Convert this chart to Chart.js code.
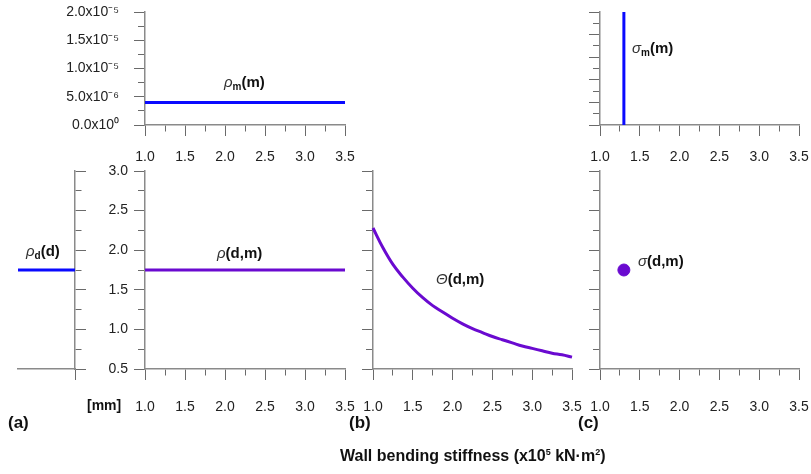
<!DOCTYPE html>
<html>
<head>
<meta charset="utf-8">
<script src="https://cdn.jsdelivr.net/npm/chart.js@4.4.0/dist/chart.umd.min.js"></script>
<style>
  body { margin: 0; background: #fff; }
  #wrap { position: relative; width: 811px; height: 474px; overflow: hidden; }
  canvas { position: absolute; left: 0; top: 0; }
  .lbl { position: absolute; font: bold 15px "Liberation Sans", Arial, sans-serif; line-height: 17px; white-space: nowrap; color: #111; }
  .lbl .g { font-weight: normal; font-style: italic; color: #333; }
  .lbl sub { font-size: 10px; vertical-align: -3px; }
  .lbl sup { font-size: 9px; vertical-align: 6px; }
</style>
</head>
<body>
<div id="wrap">
  <canvas id="c1" width="811" height="474"></canvas>
  <canvas id="c2" width="811" height="474"></canvas>
  <canvas id="c3" width="811" height="474"></canvas>
  <canvas id="c4" width="811" height="474"></canvas>
  <canvas id="c5" width="811" height="474"></canvas>
  <canvas id="c6" width="811" height="474"></canvas>

  <div class="lbl" style="left:224px;top:73px"><span class="g">ρ</span><sub>m</sub>(m)</div>
  <div class="lbl" style="left:26px;top:242px"><span class="g">ρ</span><sub>d</sub>(d)</div>
  <div class="lbl" style="left:217px;top:244px"><span class="g">ρ</span>(d,m)</div>
  <div class="lbl" style="left:436px;top:270px"><span class="g">Θ</span>(d,m)</div>
  <div class="lbl" style="left:632px;top:39px"><span class="g">σ</span><sub>m</sub>(m)</div>
  <div class="lbl" style="left:638px;top:252px"><span class="g">σ</span>(d,m)</div>
  <div class="lbl" style="left:87px;top:397px;font-size:14px">[mm]</div>
  <div class="lbl" style="left:8px;top:414px;font-size:17px">(a)</div>
  <div class="lbl" style="left:349px;top:414px;font-size:17px">(b)</div>
  <div class="lbl" style="left:578px;top:414px;font-size:17px">(c)</div>
  <div class="lbl" style="left:340px;top:444px;font-size:16px">Wall bending stiffness (x10<sup>5</sup> kN·m<sup>2</sup>)</div>
</div>

<script>
// x values: wall bending stiffness (x10^5 kN.m2)
const stiffness = [1.0, 1.125, 1.25, 1.375, 1.5, 1.625, 1.75, 1.875, 2.0, 2.125, 2.25,
    2.375, 2.5, 2.625, 2.75, 2.875, 3.0, 3.125, 3.25, 3.375, 3.5];
const xTickLabels = ['1.0', '1.5', '2.0', '2.5', '3.0', '3.5'];

// (a) densities
const rhoMx = [1.0, 3.5];
const rhoM = [4.0e-6, 4.0e-6];
const rhoDx = [0, 1];
const rhoD = [1.75, 1.75];
const rhoTopTicks = ['0.0x10⁰', '5.0x10⁻⁶', '1.0x10⁻⁵', '1.5x10⁻⁵', '2.0x10⁻⁵'];

// (a) joint density, (b) theta curve
const rhoDmx = [1.0, 3.5];
const rhoDm = [1.75, 1.75];
const theta = [2.28, 2.03, 1.82, 1.66, 1.52, 1.40, 1.30, 1.22, 1.14, 1.07, 1.01,
    0.96, 0.91, 0.87, 0.83, 0.79, 0.76, 0.73, 0.70, 0.68, 0.65];
const yTickLabels = ['0.5', '1.0', '1.5', '2.0', '2.5', '3.0'];

// (c) sigma
const sigmaMx = [1.3, 1.3];
const sigmaM = [0, 1];
const sigmaDmx = [1.3];
const sigmaDm = [1.75];

const BLUE = '#0a0aff';
const PURPLE = '#6a0ad0';
const AXIS = '#8a8a8a';
const TICK = '#6a6a6a';
const FONT = { family: '"Liberation Sans", Arial, sans-serif', size: 14 };

function pts(xs, ys) {
    return xs.map((x, i) => ({ x: x, y: ys[i] }));
}

// minor ticks get drawn shorter with a dash pattern
function tickGrid(isMajor, side) {
    return {
        display: true,
        drawOnChartArea: false,
        drawTicks: true,
        tickLength: 11,
        tickColor: TICK,
        tickWidth: 1,
        tickBorderDash: (ctx) => {
            if (isMajor(ctx.tick.value)) return [];
            return side === 'left' ? [0, 4, 8, 100] : [6, 100];
        }
    };
}

function half(v) { return Math.abs(v * 2 - Math.round(v * 2)) < 1e-6; }

function xAxis(showLabels, pad, min, max, step, majorFn) {
    return {
        type: 'linear',
        position: 'bottom',
        min: min, max: max,
        afterFit: (s) => { s.height = 60; s.paddingLeft = 0; s.paddingRight = 0; },
        border: { display: true, color: AXIS, width: 1.5 },
        grid: tickGrid(majorFn, 'bottom'),
        ticks: {
            display: showLabels,
            stepSize: step,
            autoSkip: false,
            maxRotation: 0,
            padding: pad,
            color: '#222',
            font: FONT,
            callback: (v) => half(v) ? xTickLabels[Math.round((v - 1) * 2)] : ''
        }
    };
}

function yAxis(position, min, max, step, majorFn, labelFn, pad, width) {
    return {
        type: 'linear',
        position: position,
        min: min, max: max,
        afterFit: (s) => { s.width = width; s.paddingTop = 0; s.paddingBottom = 0; },
        border: { display: true, color: AXIS, width: 1.5 },
        grid: tickGrid(majorFn, position),
        ticks: {
            display: !!labelFn,
            stepSize: step,
            autoSkip: false,
            padding: pad,
            color: '#222',
            font: FONT,
            callback: labelFn || (() => '')
        }
    };
}

function panel(id, rect, datasets, scales, leftW, rightW) {
    return new Chart(document.getElementById(id), {
        type: 'scatter',
        data: { datasets: datasets },
        options: {
            responsive: false,
            animation: false,
            devicePixelRatio: 1,
            layout: {
                padding: {
                    left: rect.left - leftW,
                    right: 811 - rect.right - rightW,
                    top: rect.top,
                    bottom: 474 - rect.bottom - 60
                }
            },
            plugins: { legend: { display: false }, tooltip: { enabled: false } },
            scales: scales
        }
    });
}

function lineSet(data, color) {
    return {
        data: data,
        showLine: true,
        borderColor: color,
        backgroundColor: color,
        borderWidth: 3,
        pointRadius: 0,
        tension: 0.4,
        clip: false
    };
}

const yMajor = (v) => half(v);

// (a) top: rho_m(m)
panel('c1', { left: 145, right: 345, top: 12, bottom: 125 },
    [lineSet(pts(rhoMx, rhoM), BLUE)],
    {
        x: xAxis(true, 13, 1, 3.5, 0.25, half),
        y: yAxis('left', 0, 2e-5, 2.5e-6, (v) => Math.round(v / 2.5e-6) % 2 === 0,
            (v) => {
                const k = Math.round(v / 2.5e-6);
                return k % 2 === 0 ? rhoTopTicks[k / 2] : '';
            }, 15, 140)
    }, 140, 0);

// (a) left: rho_d(d)
panel('c2', { left: 18, right: 75, top: 171, bottom: 369 },
    [lineSet(pts(rhoDx, rhoD), BLUE)],
    {
        x: xAxis(false, 0, 0, 1, 1, () => true),
        y: yAxis('right', 0.5, 3.0, 0.25, yMajor, null, 0, 20)
    }, 0, 20);

// (a) main: rho(d,m)
panel('c3', { left: 145, right: 345, top: 171, bottom: 369 },
    [lineSet(pts(rhoDmx, rhoDm), PURPLE)],
    {
        x: xAxis(true, 19, 1, 3.5, 0.25, half),
        y: yAxis('left', 0.5, 3.0, 0.25, yMajor,
            (v) => half(v) ? yTickLabels[Math.round((v - 0.5) * 2)] : '', 6, 60)
    }, 60, 0);

// (b) Theta(d,m)
panel('c4', { left: 373, right: 572, top: 171, bottom: 369 },
    [lineSet(pts(stiffness, theta), PURPLE)],
    {
        x: xAxis(true, 19, 1, 3.5, 0.25, half),
        y: yAxis('left', 0.5, 3.0, 0.25, yMajor, null, 0, 20)
    }, 20, 0);

// (c) top: sigma_m(m)
panel('c5', { left: 600, right: 799, top: 12, bottom: 125 },
    [lineSet(pts(sigmaMx, sigmaM), BLUE)],
    {
        x: xAxis(true, 13, 1, 3.5, 0.25, half),
        y: yAxis('left', 0, 1, 0.1, (v) => Math.round(v * 10) % 2 === 0, null, 0, 20)
    }, 20, 0);

// (c) main: sigma(d,m)
panel('c6', { left: 600, right: 799, top: 171, bottom: 369 },
    [{
        data: pts(sigmaDmx, sigmaDm),
        pointRadius: 6,
        pointBackgroundColor: PURPLE,
        pointBorderColor: PURPLE,
        clip: false
    }],
    {
        x: xAxis(true, 19, 1, 3.5, 0.25, half),
        y: yAxis('left', 0.5, 3.0, 0.25, yMajor, null, 0, 20)
    }, 20, 0);
</script>
</body>
</html>
